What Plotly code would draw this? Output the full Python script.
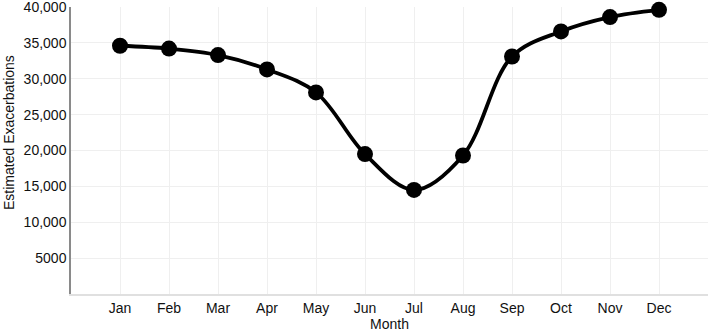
import plotly.graph_objects as go

months = ["Jan", "Feb", "Mar", "Apr", "May", "Jun", "Jul", "Aug", "Sep", "Oct", "Nov", "Dec"]
exacerbations = [34600, 34200, 33300, 31300, 28100, 19500, 14500, 19300, 33100, 36600, 38600, 39600]
y_ticks = [5000, 10000, 15000, 20000, 25000, 30000, 35000, 40000]
y_tick_text = ["5000", "10,000", "15,000", "20,000", "25,000", "30,000", "35,000", "40,000"]

fig = go.Figure()
fig.add_trace(go.Scatter(
    x=months, y=exacerbations, mode="lines+markers",
    line=dict(color="black", width=3.8, shape="spline", smoothing=1.0),
    marker=dict(color="black", size=16),
    showlegend=False, cliponaxis=False,
))

font = dict(family="Liberation Sans, Arial, sans-serif", size=14, color="#111111")
L, R, T, B, W, H = 71, 1, 7, 38, 709, 332
pw, ph = W - L - R, H - T - B
fig.update_layout(
    width=W, height=H,
    margin=dict(l=L, r=R, t=T, b=B),
    paper_bgcolor="white", plot_bgcolor="white",
    font=font,
    xaxis=dict(
        title=dict(text="Month", font=font, standoff=0),
        type="category", range=[-1, 12], automargin=False,
        showgrid=True, gridcolor="#efefef", gridwidth=1,
        showline=True, linecolor="#e0e0e0", linewidth=2,
        ticks="", tickfont=font,
    ),
    yaxis=dict(
        range=[0, 40000], tickvals=y_ticks, ticktext=y_tick_text, automargin=False,
        showgrid=True, gridcolor="#efefef", gridwidth=1,
        zeroline=False, ticklabeloverflow="allow",
        showline=True, linecolor="#8a8a8a", linewidth=1.5,
        ticks="", tickfont=font,
    ),
    annotations=[dict(
        text="Estimated Exacerbations", textangle=-90, showarrow=False,
        xref="paper", yref="paper",
        x=(9 - L) / pw, y=(H - B - 133) / ph,
        xanchor="center", yanchor="middle", font=font,
    )],
)

fig.write_html("out.html", config={"displayModeBar": False},
               post_script="document.body.style.margin='0';document.body.style.padding='0';")
